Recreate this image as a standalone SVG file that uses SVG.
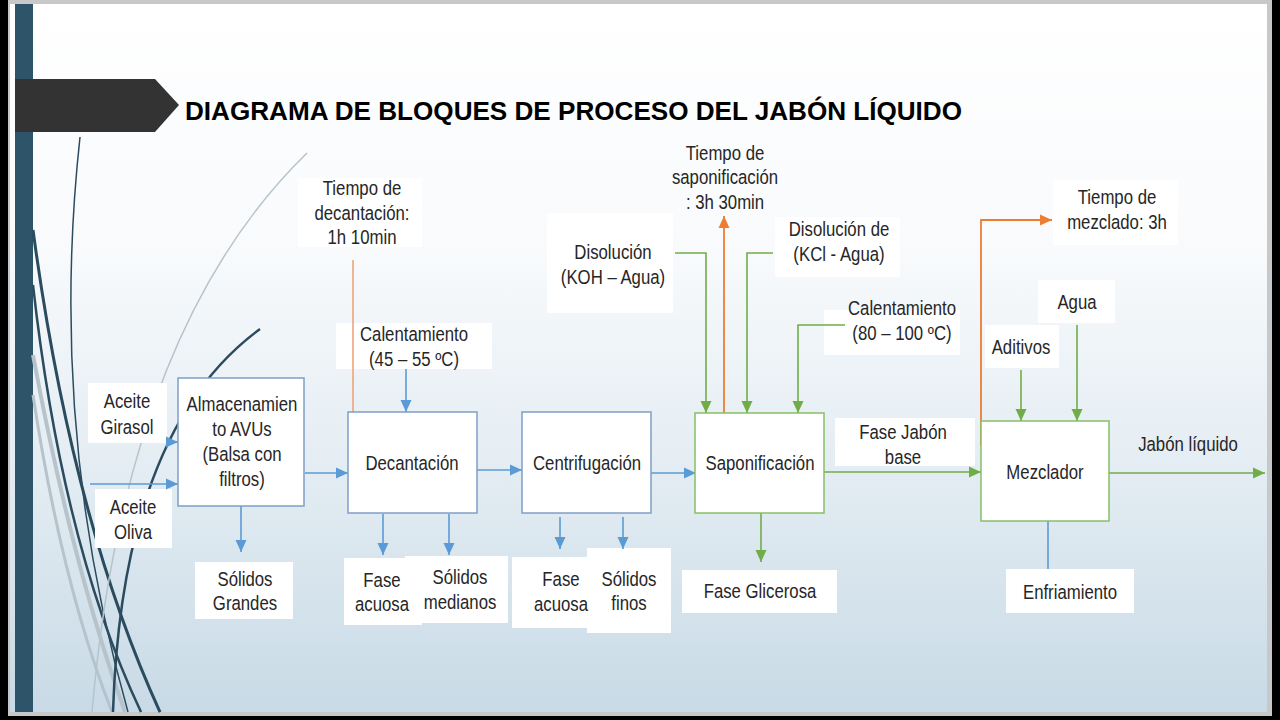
<svg xmlns="http://www.w3.org/2000/svg" width="1280" height="720" viewBox="0 0 1280 720">
<defs>
<linearGradient id="bg" x1="0" y1="0" x2="0" y2="1">
<stop offset="0" stop-color="#ffffff"/>
<stop offset="0.35" stop-color="#f8fafc"/>
<stop offset="0.65" stop-color="#e4edf3"/>
<stop offset="1" stop-color="#c8dae6"/>
</linearGradient>
<marker id="ab" viewBox="0 0 12 12" refX="12" refY="6" markerWidth="12" markerHeight="12" markerUnits="userSpaceOnUse" orient="auto"><path d="M0,0.5 L12,6 L0,11.5 z" fill="#5b9bd5"/></marker>
<marker id="ag" viewBox="0 0 12 12" refX="12" refY="6" markerWidth="12" markerHeight="12" markerUnits="userSpaceOnUse" orient="auto"><path d="M0,0.5 L12,6 L0,11.5 z" fill="#70ad47"/></marker>
<marker id="ao" viewBox="0 0 12 12" refX="12" refY="6" markerWidth="12" markerHeight="12" markerUnits="userSpaceOnUse" orient="auto"><path d="M0,0.5 L12,6 L0,11.5 z" fill="#ed7d31"/></marker>
</defs>
<style>
.t{font-family:"Liberation Sans",Arial,sans-serif;font-size:19.5px;fill:#262626;text-anchor:middle}
.title{font-family:"Liberation Sans",Arial,sans-serif;font-size:26px;font-weight:bold;fill:#000}
.lbl{fill:#ffffff;stroke:none}
.nb{fill:#ffffff;stroke:#7f9ec6;stroke-width:1.5}
.ng{fill:#ffffff;stroke:#86bf66;stroke-width:1.5}
.cb{fill:none;stroke:#5b9bd5;stroke-width:1.6}
.cg{fill:none;stroke:#70ad47;stroke-width:1.6}
.co{fill:none;stroke:#ed7d31;stroke-width:1.8}
.col{fill:none;stroke:#eea47a;stroke-width:1.6}
.dk{fill:none;stroke:#2b4b5f}
.lg{fill:none;stroke:#b7c3cb}
</style>

<!-- frame and slide -->
<rect x="0" y="0" width="1280" height="720" fill="#000"/>
<rect x="8" y="0" width="1264" height="716" fill="#c8c8c8"/>
<rect x="10" y="4" width="1257" height="708" fill="url(#bg)"/>
<rect x="15" y="4" width="18" height="708" fill="#2e5469"/>

<!-- decorative curves -->
<g id="decor">
<path class="dk" stroke-width="3" d="M33 230 Q72 520 160 712"/>
<path class="dk" stroke-width="2.5" d="M33 285 Q62 545 141 712"/>
<path class="dk" stroke-width="1.5" d="M80 137 Q48 430 128 712"/>
<path class="lg" stroke-width="4" d="M33 355 Q72 565 125 712"/>
<path class="lg" stroke-width="3" d="M33 395 Q62 585 112 712"/>
<path class="dk" stroke-width="2.5" d="M260 329 Q122 430 113 712"/>
<path class="lg" stroke-width="1.5" d="M307 153 Q125 330 92 712"/>
</g>

<!-- title banner -->
<g id="title">
<polygon points="15,79 155,79 179,105 155,132 15,132" fill="#333333"/>
<text class="title" x="185" y="120" textLength="777" lengthAdjust="spacingAndGlyphs">DIAGRAMA DE BLOQUES DE PROCESO DEL JABÓN LÍQUIDO</text>
</g>

<!-- label backgrounds -->
<g id="label-boxes">
<rect class="lbl" x="88" y="383" width="79" height="60"/>
<rect class="lbl" x="95" y="489" width="77" height="59"/>
<rect class="lbl" x="195" y="562" width="98" height="57"/>
<rect class="lbl" x="344" y="558" width="78" height="67"/>
<rect class="lbl" x="405" y="556" width="103" height="67"/>
<rect class="lbl" x="512" y="557" width="78" height="71"/>
<rect class="lbl" x="587" y="548" width="84" height="85"/>
<rect class="lbl" x="682" y="570" width="155" height="43"/>
<rect class="lbl" x="1006" y="569" width="128" height="44"/>
<rect class="lbl" x="298" y="178" width="124" height="69"/>
<rect class="lbl" x="336" y="323" width="156" height="46"/>
<rect class="lbl" x="547" y="213" width="126" height="100"/>
<rect class="lbl" x="775" y="217" width="125" height="60"/>
<rect class="lbl" x="824" y="310" width="136" height="45"/>
<rect class="lbl" x="835" y="418" width="140" height="48"/>
<rect class="lbl" x="1053" y="180" width="125" height="65"/>
<rect class="lbl" x="1038" y="280" width="77" height="43"/>
<rect class="lbl" x="985" y="325" width="74" height="43"/>
</g>

<!-- connectors -->
<g id="connectors">
<line class="cb" x1="166" y1="442" x2="178" y2="442" marker-end="url(#ab)"/>
<line class="cb" x1="90" y1="484" x2="178" y2="484" marker-end="url(#ab)"/>
<line class="cb" x1="305" y1="473" x2="348" y2="473" marker-end="url(#ab)"/>
<line class="cb" x1="241" y1="506" x2="241" y2="552" marker-end="url(#ab)"/>
<line class="col" x1="353" y1="260" x2="353" y2="412"/>
<line class="cb" x1="406" y1="369" x2="406" y2="412" marker-end="url(#ab)"/>
<line class="cb" x1="383" y1="514" x2="383" y2="555" marker-end="url(#ab)"/>
<line class="cb" x1="449" y1="514" x2="449" y2="555" marker-end="url(#ab)"/>
<line class="cb" x1="477" y1="470" x2="522" y2="470" marker-end="url(#ab)"/>
<line class="cb" x1="560" y1="517" x2="560" y2="549" marker-end="url(#ab)"/>
<line class="cb" x1="623" y1="517" x2="623" y2="549" marker-end="url(#ab)"/>
<line class="cb" x1="651" y1="473" x2="696" y2="473" marker-end="url(#ab)"/>
<polyline class="cg" points="675,253 706,253 706,413" marker-end="url(#ag)"/>
<line class="co" x1="724" y1="413" x2="724" y2="216" marker-end="url(#ao)"/>
<polyline class="cg" points="773,253 747,253 747,413" marker-end="url(#ag)"/>
<polyline class="cg" points="845,325 798,325 798,413" marker-end="url(#ag)"/>
<line class="cg" x1="761" y1="513" x2="761" y2="562" marker-end="url(#ag)"/>
<line class="cg" x1="824" y1="472" x2="981" y2="472" marker-end="url(#ag)"/>
<polyline class="co" points="981,445 981,220 1052,220" marker-end="url(#ao)"/>
<line class="cg" x1="1021" y1="370" x2="1021" y2="421" marker-end="url(#ag)"/>
<line class="cg" x1="1077" y1="325" x2="1077" y2="421" marker-end="url(#ag)"/>
<line class="cg" x1="1109" y1="473" x2="1265" y2="473" marker-end="url(#ag)"/>
<line class="cb" x1="1048" y1="521" x2="1048" y2="569" stroke-width="1.3"/>
</g>

<!-- process nodes -->
<g id="almacenamiento">
<rect class="nb" x="178" y="378" width="126" height="128"/>
<text class="t" transform="translate(242 0) scale(0.86 1)"><tspan x="0" y="411">Almacenamien</tspan><tspan x="0" y="436">to AVUs</tspan><tspan x="0" y="461">(Balsa con</tspan><tspan x="0" y="486">filtros)</tspan></text>
</g>
<g id="decantacion">
<rect class="nb" x="348" y="412" width="129" height="101"/>
<text class="t" transform="translate(412 470) scale(0.86 1)">Decantación</text>
</g>
<g id="centrifugacion">
<rect class="nb" x="522" y="412" width="129" height="101"/>
<text class="t" transform="translate(587 470) scale(0.86 1)">Centrifugación</text>
</g>
<g id="saponificacion">
<rect class="ng" x="695" y="413" width="129" height="100"/>
<text class="t" transform="translate(760 470) scale(0.86 1)">Saponificación</text>
</g>
<g id="mezclador">
<rect class="ng" x="981" y="421" width="128" height="100"/>
<text class="t" transform="translate(1045 479) scale(0.86 1)">Mezclador</text>
</g>

<!-- stream labels -->
<g id="aceite-girasol"><text class="t" transform="translate(127 0) scale(0.86 1)"><tspan x="0" y="408">Aceite</tspan><tspan x="0" y="434">Girasol</tspan></text></g>
<g id="aceite-oliva"><text class="t" transform="translate(133 0) scale(0.86 1)"><tspan x="0" y="514">Aceite</tspan><tspan x="0" y="539">Oliva</tspan></text></g>
<g id="solidos-grandes"><text class="t" transform="translate(245 0) scale(0.86 1)"><tspan x="0" y="586">Sólidos</tspan><tspan x="0" y="610">Grandes</tspan></text></g>
<g id="fase-acuosa-1"><text class="t" transform="translate(382 0) scale(0.86 1)"><tspan x="0" y="587">Fase</tspan><tspan x="0" y="611">acuosa</tspan></text></g>
<g id="solidos-medianos"><text class="t" transform="translate(460 0) scale(0.86 1)"><tspan x="0" y="584">Sólidos</tspan><tspan x="0" y="609">medianos</tspan></text></g>
<g id="fase-acuosa-2"><text class="t" transform="translate(561 0) scale(0.86 1)"><tspan x="0" y="586">Fase</tspan><tspan x="0" y="611">acuosa</tspan></text></g>
<g id="solidos-finos"><text class="t" transform="translate(629 0) scale(0.86 1)"><tspan x="0" y="586">Sólidos</tspan><tspan x="0" y="610">finos</tspan></text></g>
<g id="fase-glicerosa"><text class="t" transform="translate(760 598) scale(0.86 1)">Fase Glicerosa</text></g>
<g id="enfriamiento"><text class="t" transform="translate(1070 599) scale(0.86 1)">Enfriamiento</text></g>
<g id="tiempo-decantacion"><text class="t" transform="translate(362 0) scale(0.86 1)"><tspan x="0" y="195">Tiempo de</tspan><tspan x="0" y="220">decantación:</tspan><tspan x="0" y="244">1h 10min</tspan></text></g>
<g id="calentamiento-1"><text class="t" transform="translate(414 0) scale(0.86 1)"><tspan x="0" y="341">Calentamiento</tspan><tspan x="0" y="366">(45 – 55 ºC)</tspan></text></g>
<g id="disolucion-koh"><text class="t" transform="translate(613 0) scale(0.86 1)"><tspan x="0" y="259">Disolución</tspan><tspan x="0" y="284">(KOH – Agua)</tspan></text></g>
<g id="tiempo-saponificacion"><text class="t" transform="translate(725 0) scale(0.86 1)"><tspan x="0" y="160">Tiempo de</tspan><tspan x="0" y="184">saponificación</tspan><tspan x="0" y="209">: 3h 30min</tspan></text></g>
<g id="disolucion-kcl"><text class="t" transform="translate(839 0) scale(0.86 1)"><tspan x="0" y="236">Disolución de</tspan><tspan x="0" y="261">(KCl - Agua)</tspan></text></g>
<g id="calentamiento-2"><text class="t" transform="translate(902 0) scale(0.86 1)"><tspan x="0" y="315">Calentamiento</tspan><tspan x="0" y="340">(80 – 100 ºC)</tspan></text></g>
<g id="fase-jabon-base"><text class="t" transform="translate(903 0) scale(0.86 1)"><tspan x="0" y="439">Fase Jabón</tspan><tspan x="0" y="464">base</tspan></text></g>
<g id="tiempo-mezclado"><text class="t" transform="translate(1117 0) scale(0.86 1)"><tspan x="0" y="204">Tiempo de</tspan><tspan x="0" y="229">mezclado: 3h</tspan></text></g>
<g id="agua"><text class="t" transform="translate(1077 309) scale(0.86 1)">Agua</text></g>
<g id="aditivos"><text class="t" transform="translate(1021 354) scale(0.86 1)">Aditivos</text></g>
<g id="jabon-liquido"><text class="t" transform="translate(1188 451) scale(0.86 1)">Jabón líquido</text></g>
</svg>
